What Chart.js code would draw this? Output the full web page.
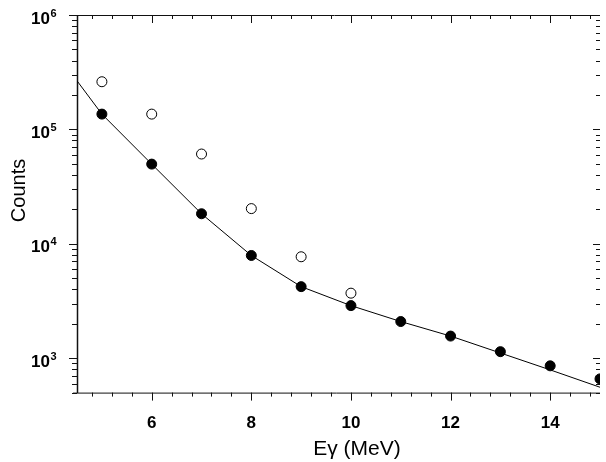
<!DOCTYPE html>
<html>
<head>
<meta charset="utf-8">
<script src="https://cdn.jsdelivr.net/npm/chart.js@4/dist/chart.umd.min.js"></script>
<style>
  html, body { margin: 0; padding: 0; background: #fff; }
  canvas { display: block; }
</style>
</head>
<body>
<canvas id="chart" width="606" height="462"></canvas>
<script>
// measured points (filled = corrected, open = raw)
const energies = [5, 6, 7, 8, 9, 10, 11, 12, 13, 14, 15];
const countsFilled = [1.36e5, 4.97e4, 1.83e4, 7.9e3, 4.22e3, 2.88e3, 2.09e3, 1.56e3, 1.14e3, 857, 659];
const energiesOpen = [5, 6, 7, 8, 9, 10];
const countsOpen = [2.61e5, 1.36e5, 6.09e4, 2.03e4, 7.7e3, 3.7e3];

// fit curve
const fitEnergies = [4.5, 5, 6, 7, 8, 9, 10, 11, 12, 13, 14, 15];
const fitCounts = [2.66e5, 1.36e5, 4.97e4, 1.83e4, 7.9e3, 4.22e3, 2.88e3, 2.09e3, 1.56e3, 1.11e3, 790, 557];

// axis labels
const xTickLabels = [6, 8, 10, 12, 14];
const yTickExponents = [3, 4, 5, 6];
const xTitle = "E\u03B3 (MeV)";
const yTitle = "Counts";

const FONT = "'Liberation Sans', Arial, sans-serif";

const toPoints = (xs, ys) => xs.map((x, i) => ({ x: x, y: ys[i] }));

// draws the boxed frame, inward/outward ticks and labels like the original plot
const framePlugin = {
  id: "frame",
  beforeDatasetsDraw(chart) {
    const { ctx, chartArea: a, scales } = chart;
    const xs = scales.x, ys = scales.y;
    ctx.save();
    ctx.strokeStyle = "#111";
    ctx.lineWidth = 1;

    // axis lines
    ctx.beginPath();
    ctx.moveTo(73, a.bottom + 0.5); ctx.lineTo(a.right, a.bottom + 0.5);
    ctx.moveTo(69, a.top + 0.5); ctx.lineTo(a.right, a.top + 0.5);
    ctx.stroke();
    ctx.lineWidth = 1.5;
    ctx.beginPath();
    ctx.moveTo(a.left + 0.5, a.top); ctx.lineTo(a.left + 0.5, a.bottom + 0.5);
    ctx.stroke();

    // x ticks (bottom outward, top inward), minor every 0.4
    ctx.lineWidth = 1;
    ctx.beginPath();
    for (let i = 0; i <= 30; i++) {
      const v = 4.8 + i * 0.4;
      if (v > 15.001) break;
      const px = Math.round(xs.getPixelForValue(v)) + 0.5;
      const major = Math.abs(v / 2 - Math.round(v / 2)) < 0.01;
      const len = major ? 8 : 4;
      ctx.moveTo(px, a.bottom); ctx.lineTo(px, a.bottom + len);
      ctx.moveTo(px, a.top); ctx.lineTo(px, a.top + len);
    }
    // y ticks (left outward, right inward)
    for (let e = 2; e <= 6; e++) {
      for (let m = 1; m <= 9; m++) {
        const v = m * Math.pow(10, e);
        if (v < ys.min || v > ys.max) continue;
        const py = Math.round(ys.getPixelForValue(v)) + 0.5;
        const major = m === 1;
        const len = major ? 8 : 5;
        ctx.moveTo(a.left - len, py); ctx.lineTo(a.left, py);
        ctx.moveTo(a.right - len + 1, py); ctx.lineTo(a.right, py);
      }
    }
    ctx.stroke();
    ctx.restore();
  },
  afterDraw(chart) {
    const { ctx, chartArea: a, scales } = chart;
    const xs = scales.x, ys = scales.y;
    ctx.save();
    ctx.fillStyle = "#000";

    // x tick labels
    ctx.font = "bold 17px " + FONT;
    ctx.textAlign = "center";
    ctx.textBaseline = "alphabetic";
    xTickLabels.forEach(v => {
      ctx.fillText(String(v), xs.getPixelForValue(v), a.bottom + 35);
    });

    // y tick labels 10^n
    yTickExponents.forEach(n => {
      const py = ys.getPixelForValue(Math.pow(10, n));
      ctx.font = "bold 17px " + FONT;
      ctx.textAlign = "right";
      ctx.fillText("10", 50, py + 8.5);
      ctx.font = "bold 11px " + FONT;
      ctx.textAlign = "left";
      ctx.fillText(String(n), 50.5, py + 1.5);
    });

    // axis titles
    ctx.font = "21px " + FONT;
    ctx.textAlign = "center";
    ctx.fillText(xTitle, 357, 455);
    ctx.font = "20px " + FONT;
    ctx.translate(19, 190.5);
    ctx.rotate(-Math.PI / 2);
    ctx.textBaseline = "middle";
    ctx.fillText(yTitle, 0, 0);
    ctx.restore();
  }
};

new Chart(document.getElementById("chart"), {
  type: "scatter",
  data: {
    datasets: [
      {
        label: "fit",
        data: toPoints(fitEnergies, fitCounts),
        showLine: true,
        borderColor: "#000",
        borderWidth: 1,
        pointRadius: 0,
        tension: 0,
        order: 3
      },
      {
        label: "raw",
        data: toPoints(energiesOpen, countsOpen),
        pointRadius: 5,
        pointBorderWidth: 1,
        pointBackgroundColor: "#fff",
        pointBorderColor: "#000",
        order: 2
      },
      {
        label: "corrected",
        data: toPoints(energies, countsFilled),
        pointRadius: 5,
        pointBorderWidth: 1,
        pointBackgroundColor: "#000",
        pointBorderColor: "#000",
        order: 1
      }
    ]
  },
  options: {
    responsive: false,
    animation: false,
    layout: { padding: { left: 77, top: 15, right: 0, bottom: 69.4 } },
    plugins: {
      legend: { display: false },
      tooltip: { enabled: false }
    },
    scales: {
      x: { type: "linear", min: 4.5, max: 15, display: false },
      y: { type: "logarithmic", min: 500, max: 1e6, display: false }
    }
  },
  plugins: [framePlugin]
});
</script>
</body>
</html>
